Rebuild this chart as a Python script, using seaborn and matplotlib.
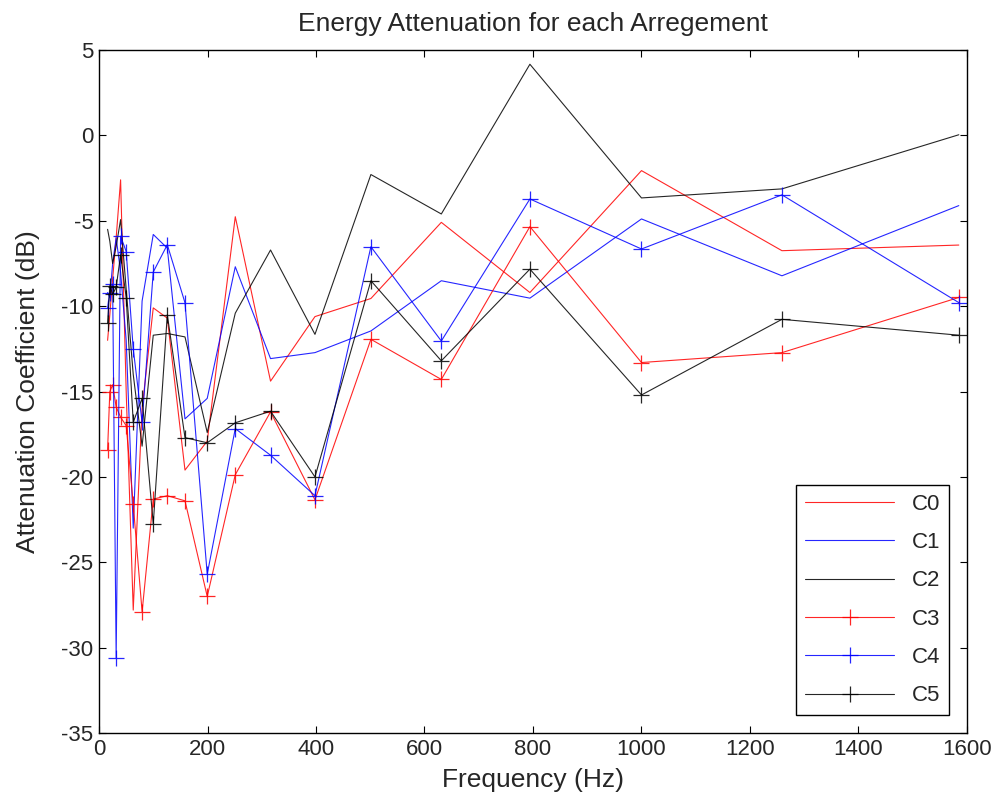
import numpy as np
import pandas as pd
import seaborn as sns
from matplotlib import pyplot as plt

sns.set_style("ticks")
plt.rcParams['font.family'] = ['Liberation Sans', 'DejaVu Sans']
plt.rcParams['axes.unicode_minus'] = False
plt.rcParams['xtick.direction'] = 'in'
plt.rcParams['ytick.direction'] = 'in'
plt.rcParams['xtick.top'] = True
plt.rcParams['ytick.right'] = True

# third-octave band centre frequencies (Hz)
freq = [15.85, 19.95, 25.12, 31.62, 39.81, 50.12, 63.10, 79.43, 100.0, 125.9,
        158.5, 199.5, 251.2, 316.2, 398.1, 501.2, 631.0, 794.3, 1000.0, 1258.9, 1584.9]

c0 = [-12.0, -10.5, -8.4, -6.0, -2.6, -15.0, -27.8, -16.0, -10.1, -10.7,
      -19.6, -17.9, -4.76, -14.39, -10.61, -9.55, -5.09, -9.2, -2.06, -6.75, -6.42]
c1 = [-9.2, -9.5, -7.5, -6.0, -8.0, -12.0, -23.0, -9.7, -5.8, -6.6,
      -16.6, -15.4, -7.69, -13.07, -12.72, -11.45, -8.51, -9.53, -4.89, -8.22, -4.11]
c2 = [-5.5, -6.2, -7.5, -6.5, -4.93, -9.0, -14.0, -18.2, -11.7, -11.6,
      -11.8, -17.4, -10.41, -6.71, -11.65, -2.29, -4.6, 4.17, -3.66, -3.13, 0.04]
c3 = [-18.4, -15.0, -14.6, -15.9, -16.5, -17.0, -21.6, -27.9, -21.3, -21.1,
      -21.4, -27.0, -19.87, -16.19, -21.34, -11.94, -14.29, -5.34, -13.3, -12.72, -9.49]
c4 = [-10.1, -9.2, -8.7, -30.6, -5.9, -6.8, -12.5, -16.8, -8.0, -6.4,
      -9.8, -25.7, -17.17, -18.73, -21.1, -6.52, -12.04, -3.72, -6.65, -3.48, -9.79]
c5 = [-11.0, -8.8, -9.3, -8.9, -7.0, -9.5, -16.8, -15.4, -22.75, -10.5,
      -17.7, -18.0, -16.83, -16.15, -20.0, -8.51, -13.2, -7.83, -15.2, -10.77, -11.7]

series = {"C0": c0, "C1": c1, "C2": c2, "C3": c3, "C4": c4, "C5": c5}
colors = {"C0": "r", "C1": "b", "C2": "k", "C3": "r", "C4": "b", "C5": "k"}
with_marker = {"C0": False, "C1": False, "C2": False, "C3": True, "C4": True, "C5": True}

fig = plt.figure(figsize=(9.97, 8.05), dpi=100)
ax = fig.add_axes([0.0993, 0.0894, 0.8706, 0.8484])

for name, vals in series.items():
    df = pd.DataFrame({"Frequency": freq, "Attenuation": vals})
    kw = {}
    if with_marker[name]:
        kw = dict(marker="+", markersize=11, markeredgewidth=0.9,
                  markeredgecolor=colors[name], markerfacecolor=colors[name])
    sns.lineplot(data=df, x="Frequency", y="Attenuation", color=colors[name],
                 linewidth=0.8, alpha=0.85, label=name, ax=ax, **kw)

ax.set_xlim(0, 1600)
ax.set_ylim(-35, 5)
ax.set_xticks(np.arange(0, 1601, 200))
ax.set_yticks(np.arange(-35, 6, 5))
ax.tick_params(labelsize=16, length=5, width=0.8, color='black', pad=4)
for s in ax.spines.values():
    s.set_linewidth(1.0)
    s.set_color('black')

ax.set_title("Energy Attenuation for each Arregement", fontsize=19, pad=14)
ax.set_xlabel("Frequency (Hz)", fontsize=19, labelpad=6)
ax.set_ylabel("Attenuation Coefficient (dB)", fontsize=19, labelpad=15)

leg = ax.legend(loc="lower right", fontsize=16, handlelength=4.0, labelspacing=0.78,
                borderaxespad=0.8, fancybox=False, framealpha=1, edgecolor='black')
leg.get_frame().set_linewidth(1.0)

fig.savefig("out.png", dpi=100)
